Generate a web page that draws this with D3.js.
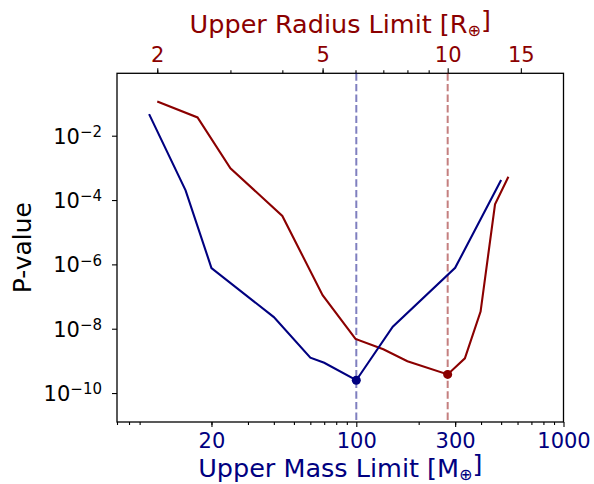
<!DOCTYPE html>
<html>
<head>
<meta charset="utf-8">
<script src="https://cdn.jsdelivr.net/npm/d3@7"></script>
<style>
  body { margin: 0; background: #fff; }
  text { font-family: "DejaVu Sans", sans-serif; }
</style>
</head>
<body>
<div id="chart"></div>
<script>
// p-value vs upper mass limit (blue) and vs upper radius limit (red)
const massLimits = [10, 15, 20, 40, 60, 70, 100, 150, 300, 500];
const massPvalues = [0.047, 2.0e-4, 7.7e-7, 2.3e-8, 1.26e-9, 8.7e-10, 2.5e-10, 1.15e-8, 7.8e-7, 4.2e-4];
const radiusLimits = [2, 2.5, 3, 4, 5, 6, 7, 8, 10, 11, 12, 13, 14];
const radiusPvalues = [0.115, 0.037, 9.7e-4, 3.2e-5, 1.1e-7, 4.8e-9, 2.3e-9, 9.8e-10, 3.8e-10, 1.2e-9, 3.4e-8, 7.4e-5, 5.3e-4];
const bestMass = 100;
const bestRadius = 10;

const massTicks = [20, 100, 300, 1000];
const radiusTicks = [2, 5, 10, 15];
const pTicks = [-2, -4, -6, -8, -10];

const width = 594;
const height = 484;
const margin = { top: 73.3, bottom: 62, left: 117, right: 30.5 };
const blue = "#000080";
const red = "#8b0000";

const svg = d3.select("#chart").append("svg")
  .attr("width", width)
  .attr("height", height);

const x = d3.scaleLog().domain([7, 1000]).range([margin.left, width - margin.right]);
const xr = d3.scaleLog().domain([1.6, 19]).range([margin.left, width - margin.right]);
const y = d3.scaleLog().domain([Math.pow(10, -10.9), Math.pow(10, -0.06)]).range([height - margin.bottom, margin.top]);

const bottom = height - margin.bottom;

// minor ticks 2..9 per decade
function minors(domain) {
  const out = [];
  for (let e = -1; e <= 3; e++) {
    for (let s = 2; s <= 9; s++) {
      const v = s * Math.pow(10, e);
      if (v >= domain[0] && v <= domain[1]) out.push(v);
    }
  }
  return out;
}

// bottom axis
svg.append("g")
  .attr("transform", `translate(0,${bottom})`)
  .call(d3.axisBottom(x).tickValues(minors(x.domain())).tickSize(3).tickFormat(""))
  .call(g => g.select(".domain").remove());
const xAxis = svg.append("g")
  .attr("transform", `translate(0,${bottom})`)
  .call(d3.axisBottom(x).tickValues(massTicks).tickSize(5).tickPadding(6).tickFormat(d3.format("d")))
  .call(g => g.select(".domain").remove());
xAxis.selectAll("text").attr("fill", blue).style("font-size", "21px");

// top axis
svg.append("g")
  .attr("transform", `translate(0,${margin.top})`)
  .call(d3.axisTop(xr).tickValues(minors(xr.domain())).tickSize(3).tickFormat(""))
  .call(g => g.select(".domain").remove());
const xrAxis = svg.append("g")
  .attr("transform", `translate(0,${margin.top})`)
  .call(d3.axisTop(xr).tickValues(radiusTicks).tickSize(5).tickPadding(6).tickFormat(d3.format("d")))
  .call(g => g.select(".domain").remove());
xrAxis.selectAll("text").attr("fill", red).style("font-size", "21px");

// left axis
const yAxis = svg.append("g")
  .attr("transform", `translate(${margin.left},0)`)
  .call(d3.axisLeft(y).tickValues(pTicks.map(e => Math.pow(10, e))).tickSize(5).tickPadding(10).tickFormat(""))
  .call(g => g.select(".domain").remove());
yAxis.selectAll(".tick").each(function (d) {
  const t = d3.select(this).select("text")
    .attr("fill", "#000")
    .attr("dy", "0.36em")
    .style("font-size", "21px");
  t.append("tspan").text("10");
  t.append("tspan")
    .attr("dy", "-0.45em")
    .style("font-size", "15px")
    .text("\u2212" + Math.round(-Math.log10(d)));
});
svg.selectAll(".tick line").attr("stroke", "#000").attr("stroke-width", 1.1);

// frame
svg.append("rect")
  .attr("x", margin.left)
  .attr("y", margin.top)
  .attr("width", width - margin.left - margin.right)
  .attr("height", bottom - margin.top)
  .attr("fill", "none")
  .attr("stroke", "#000")
  .attr("stroke-width", 1.3);

// best-fit markers
svg.append("line")
  .attr("x1", x(bestMass)).attr("x2", x(bestMass))
  .attr("y1", margin.top).attr("y2", bottom)
  .attr("stroke", blue).attr("stroke-opacity", 0.5)
  .attr("stroke-width", 2).attr("stroke-dasharray", "7.4,3.2");
svg.append("line")
  .attr("x1", xr(bestRadius)).attr("x2", xr(bestRadius))
  .attr("y1", margin.top).attr("y2", bottom)
  .attr("stroke", red).attr("stroke-opacity", 0.5)
  .attr("stroke-width", 2).attr("stroke-dasharray", "7.4,3.2");

const massLine = d3.line().x(d => x(d[0])).y(d => y(d[1]));
const radiusLine = d3.line().x(d => xr(d[0])).y(d => y(d[1]));

svg.append("path")
  .datum(d3.zip(radiusLimits, radiusPvalues))
  .attr("d", radiusLine)
  .attr("fill", "none").attr("stroke", red).attr("stroke-width", 2.1);
svg.append("path")
  .datum(d3.zip(massLimits, massPvalues))
  .attr("d", massLine)
  .attr("fill", "none").attr("stroke", blue).attr("stroke-width", 2.1);

svg.append("circle")
  .attr("cx", x(bestMass))
  .attr("cy", y(massPvalues[massLimits.indexOf(bestMass)]))
  .attr("r", 4.5).attr("fill", blue);
svg.append("circle")
  .attr("cx", xr(bestRadius))
  .attr("cy", y(radiusPvalues[radiusLimits.indexOf(bestRadius)]))
  .attr("r", 4.5).attr("fill", red);

// axis labels
const cx = (margin.left + width - margin.right) / 2;
const xl = svg.append("text")
  .attr("x", cx).attr("y", 477)
  .attr("text-anchor", "middle")
  .attr("fill", blue)
  .style("font-size", "25.5px");
xl.append("tspan").text("Upper Mass Limit [M");
xl.append("tspan").attr("dy", "0.18em").style("font-size", "16px").text("\u2295");
xl.append("tspan").attr("dy", "-0.28em").text("]");

const tl = svg.append("text")
  .attr("x", cx).attr("y", 33)
  .attr("text-anchor", "middle")
  .attr("fill", red)
  .style("font-size", "25.5px");
tl.append("tspan").text("Upper Radius Limit [R");
tl.append("tspan").attr("dy", "0.18em").style("font-size", "16px").text("\u2295");
tl.append("tspan").attr("dy", "-0.28em").text("]");

svg.append("text")
  .attr("transform", `translate(31,${(margin.top + bottom) / 2}) rotate(-90)`)
  .attr("text-anchor", "middle")
  .attr("fill", "#000")
  .style("font-size", "25px")
  .text("P-value");
</script>
</body>
</html>
